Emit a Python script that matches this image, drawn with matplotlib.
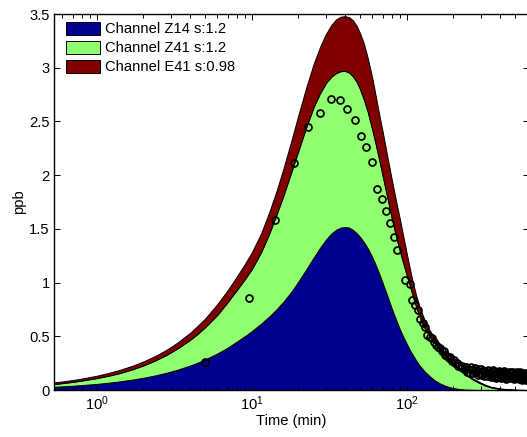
#!/usr/bin/env python3

#==============================================================================
# stacked channel fits over measured ppb, log time axis
#==============================================================================

import numpy as np
import matplotlib
matplotlib.use('Agg')
import matplotlib.pyplot as plt
from matplotlib.ticker import FixedLocator, LogLocator, NullFormatter

plt.rcParams['font.family'] = ['Liberation Sans', 'DejaVu Sans']
plt.rcParams['mathtext.default'] = 'regular'

#==============================================================================
# data
#==============================================================================

# model time grid (min) and per channel contributions (ppb)
Time = [0.53, 0.6, 0.7, 0.8, 1.0, 1.2, 1.4, 1.7, 2.0, 2.4, 2.8, 3.3, 4.0, 4.5,
        5.0, 6.0, 7.0, 8.0, 9.0, 10, 11.5, 13, 14.5, 16, 18, 20, 22.5, 25,
        27.5, 30, 32.5, 35, 37.5, 40, 42.5, 45, 47.5, 50, 53, 56, 60, 63,
        66.5, 70, 75, 80, 85, 90, 95, 100, 105, 110, 115, 120, 130, 140, 150,
        162, 175, 190, 200, 220, 240, 265, 290, 320, 350, 400, 450, 520, 610]

Z14 = [0.030, 0.034, 0.040, 0.046, 0.057, 0.068, 0.080, 0.097, 0.114, 0.137,
       0.160, 0.188, 0.228, 0.256, 0.285, 0.340, 0.395, 0.450, 0.500, 0.548,
       0.618, 0.686, 0.754, 0.822, 0.915, 1.010, 1.125, 1.230, 1.322, 1.398,
       1.455, 1.492, 1.512, 1.518, 1.512, 1.490, 1.460, 1.425, 1.375, 1.320,
       1.235, 1.165, 1.080, 0.995, 0.875, 0.760, 0.660, 0.570, 0.495, 0.430,
       0.370, 0.320, 0.275, 0.235, 0.175, 0.130, 0.095, 0.065, 0.042, 0.025,
       0.018, 0.009, 0.004, 0.002, 0.0, 0.0, 0.0, 0.0, 0.0, 0.0, 0.0]

Z41 = [0.025, 0.030, 0.036, 0.042, 0.054, 0.066, 0.077, 0.096, 0.115, 0.140,
       0.165, 0.197, 0.239, 0.270, 0.300, 0.360, 0.425, 0.480, 0.530, 0.577,
       0.667, 0.774, 0.886, 0.988, 1.115, 1.220, 1.325, 1.400, 1.438, 1.457,
       1.460, 1.458, 1.456, 1.452, 1.443, 1.430, 1.410, 1.375, 1.325, 1.270,
       1.185, 1.125, 1.060, 0.995, 0.915, 0.840, 0.780, 0.730, 0.685, 0.640,
       0.595, 0.545, 0.500, 0.460, 0.405, 0.375, 0.350, 0.320, 0.283, 0.245,
       0.220, 0.177, 0.139, 0.098, 0.070, 0.042, 0.024, 0.010, 0.004, 0.001,
       0.0]

E41 = [0.015, 0.016, 0.017, 0.018, 0.022, 0.026, 0.029, 0.033, 0.037, 0.042,
       0.047, 0.054, 0.065, 0.074, 0.080, 0.100, 0.110, 0.125, 0.140, 0.155,
       0.175, 0.200, 0.220, 0.250, 0.290, 0.330, 0.370, 0.400, 0.430, 0.455,
       0.480, 0.500, 0.507, 0.510, 0.515, 0.520, 0.520, 0.520, 0.520, 0.500,
       0.480, 0.450, 0.420, 0.410, 0.380, 0.360, 0.330, 0.300, 0.250, 0.200,
       0.155, 0.125, 0.105, 0.095, 0.070, 0.055, 0.045, 0.035, 0.025, 0.020,
       0.017, 0.014, 0.012, 0.010, 0.010, 0.008, 0.006, 0.005, 0.003, 0.001,
       0.0]

# measured samples
ObsTime = [5.0, 9.6, 14.1, 18.7, 23.2, 27.7, 32.3, 37.0, 41.4, 46.2, 50.5,
           54.9, 59.7, 64.3, 69.0, 73.2, 77.6, 82.4, 87.1, 98.0, 104.5, 108.8,
           113.0, 117.6, 122.2, 126.8, 131.4, 136.0, 140.6, 145.2, 149.8,
           154.4, 159.0, 163.6, 168.2, 172.8, 177.4, 182.0, 186.6, 191.2,
           195.8, 200.4, 205.0, 209.6, 214.2, 218.8, 223.4, 228.0, 232.6,
           237.2, 241.8, 246.4, 251.0, 255.6, 260.2, 264.8, 269.4, 274.0,
           278.6, 283.2, 287.8, 292.4, 297.0, 301.6, 306.2, 310.8, 315.4,
           320.0, 324.6, 329.2, 333.8, 338.4, 343.0, 347.6, 352.2, 356.8,
           361.4, 366.0, 370.6, 375.2, 379.8, 384.4, 389.0, 393.6, 398.2,
           402.8, 407.4, 412.0, 416.6, 421.2, 425.8, 430.4, 435.0, 439.6,
           444.2, 448.8, 453.4, 458.0, 462.6, 467.2, 471.8, 476.4, 481.0,
           485.6, 490.2, 494.8, 499.4, 504.0, 508.6, 513.2, 517.8, 522.4,
           527.0, 531.6, 536.2, 540.8, 545.4, 550.0, 554.6, 559.2, 563.8,
           568.4, 573.0, 577.6, 582.2, 586.8, 591.4, 596.0, 600.6, 605.2]

ObsPpb = [0.26, 0.86, 1.58, 2.11, 2.45, 2.58, 2.71, 2.70, 2.62, 2.51, 2.365,
          2.26, 2.12, 1.87, 1.78, 1.67, 1.55, 1.42, 1.30, 1.02, 0.99, 0.84,
          0.79, 0.745, 0.66, 0.62, 0.59, 0.515, 0.49, 0.48, 0.45,
          0.42, 0.40, 0.39, 0.365, 0.36, 0.33, 0.32, 0.30, 0.305,
          0.27, 0.275, 0.255, 0.25, 0.225, 0.235, 0.21, 0.22, 0.195,
          0.21, 0.215, 0.17, 0.20, 0.158, 0.21, 0.183, 0.155, 0.208,
          0.166, 0.189, 0.142, 0.195, 0.153, 0.20, 0.139, 0.173, 0.127,
          0.181, 0.16, 0.133, 0.187, 0.146, 0.17, 0.124, 0.178, 0.137,
          0.186, 0.125, 0.16, 0.114, 0.168, 0.148, 0.122, 0.177, 0.136,
          0.16, 0.115, 0.169, 0.129, 0.178, 0.118, 0.152, 0.107, 0.161,
          0.141, 0.115, 0.17, 0.129, 0.154, 0.108, 0.163, 0.122, 0.172,
          0.111, 0.146, 0.10, 0.155, 0.134, 0.109, 0.163, 0.123, 0.147,
          0.102, 0.156, 0.116, 0.165, 0.105, 0.14, 0.094, 0.149, 0.128,
          0.103, 0.157, 0.117, 0.141, 0.096, 0.15, 0.11, 0.159, 0.099]

Labels = ['Channel Z14 s:1.2', 'Channel Z41 s:1.2', 'Channel E41 s:0.98']
Colors = ['#000090', '#90FF70', '#800000']

XTicks = [1, 10, 100]
XTickLabels = ['$10^{0}$', '$10^{1}$', '$10^{2}$']
YTicks = [0, 0.5, 1, 1.5, 2, 2.5, 3, 3.5]

#==============================================================================
# plot
#==============================================================================

W, H = 527, 437
FontSize = 10.6
fig = plt.figure(figsize=(W / 100, H / 100), dpi=100)
ax = fig.add_axes([54 / W, 47 / H, (528.5 - 54) / W, 376 / H])

ax.stackplot(Time, Z14, Z41, E41, colors=Colors, labels=Labels,
             edgecolor='black', linewidth=0.7)
ax.plot(ObsTime, ObsPpb, ls='none', marker='o', ms=5, mew=1.25,
        mfc='none', mec='black', zorder=3)

ax.set_xscale('log')
ax.set_xlim(0.53, 610)
ax.set_ylim(0, 3.5)

ax.xaxis.set_major_locator(FixedLocator(XTicks))
ax.set_xticklabels(XTickLabels)
ax.xaxis.set_minor_locator(LogLocator(base=10, subs=np.arange(2, 10)))
ax.xaxis.set_minor_formatter(NullFormatter())
ax.set_yticks(YTicks)
ax.set_yticklabels(['%g' % v for v in YTicks])

ax.tick_params(which='both', direction='in', top=True, right=True,
               width=0.7, labelsize=FontSize)
ax.tick_params(which='major', length=4)
ax.tick_params(which='minor', length=2.8)
ax.tick_params(axis='x', pad=3)
ax.tick_params(axis='y', pad=3)
for s in ax.spines.values():
  s.set_linewidth(1.0)

ax.set_xlabel('Time (min)', fontsize=FontSize, labelpad=1)
ax.set_ylabel('ppb', fontsize=FontSize, labelpad=2.5)

ax.legend(loc='upper left', bbox_to_anchor=(65.7 / W, 1 - 21.7 / H),
          bbox_transform=fig.transFigure, frameon=False, borderpad=0,
          borderaxespad=0, handlelength=2.3, handleheight=1.0,
          labelspacing=0.3, handletextpad=0.34, fontsize=FontSize)

fig.savefig('out.png', dpi=100)
